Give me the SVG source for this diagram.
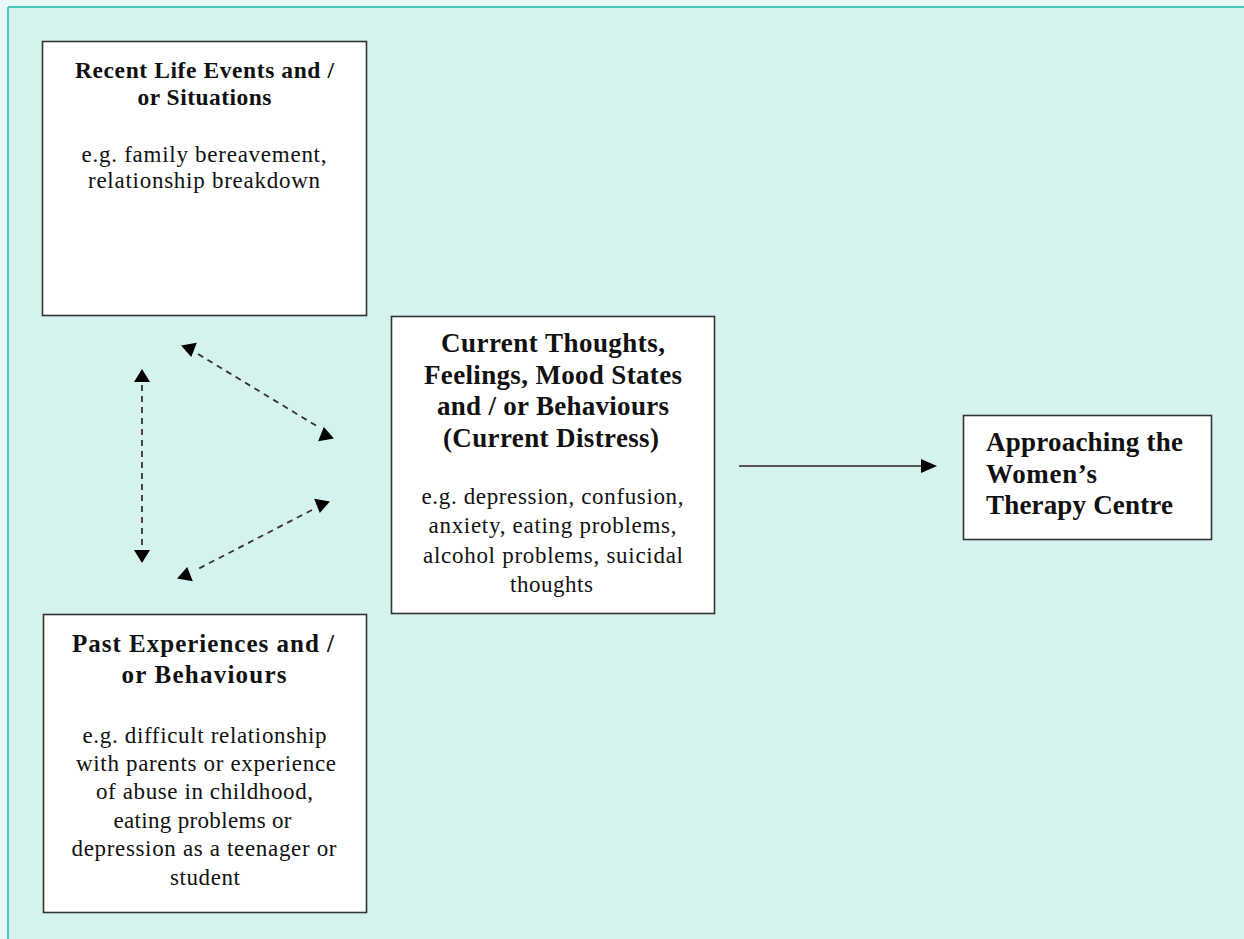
<svg xmlns="http://www.w3.org/2000/svg" width="1244" height="939" viewBox="0 0 1244 939">
<style>
.box{fill:#ffffff;stroke:#333333;stroke-width:1.6}
.t{font-family:"Liberation Serif","Times New Roman",serif;fill:#111111;text-anchor:middle}
.s{text-anchor:start}
.b{font-weight:bold}
.dash{stroke:#333333;stroke-width:1.8;stroke-dasharray:6,5;fill:none}
.head{fill:#000000}
</style>
<defs>
<path id="tri" d="M0,-7 L8,6 L-8,6 Z"/>
</defs>
<rect x="0" y="0" width="1244" height="939" fill="#e8f8f6"/>
<rect x="8" y="7" width="1236" height="932" fill="#d4f3ee"/>
<line x1="8" y1="7" x2="1244" y2="7" stroke="#45c9b8" stroke-width="2"/>
<line x1="8" y1="7" x2="8" y2="939" stroke="#45c9b8" stroke-width="2"/>

<g id="connectors">
<line class="dash" x1="142" y1="385" x2="142" y2="548"/>
<use href="#tri" class="head" transform="translate(142,376)"/>
<use href="#tri" class="head" transform="translate(142,556) rotate(180)"/>
<line class="dash" x1="198" y1="354" x2="320" y2="428"/>
<use href="#tri" class="head" transform="translate(190,350) rotate(170)"/>
<use href="#tri" class="head" transform="translate(325,434) rotate(-10)"/>
<line class="dash" x1="312" y1="510" x2="196" y2="570"/>
<use href="#tri" class="head" transform="translate(321,506) rotate(190)"/>
<use href="#tri" class="head" transform="translate(186,574) rotate(10)"/>
<line x1="739" y1="466" x2="922" y2="466" stroke="#555555" stroke-width="2"/>
<path class="head" d="M921,459 L937,466 L921,473 Z"/>
</g>

<g id="recent">
<rect class="box" x="42.5" y="41.5" width="324" height="274"/>
<text class="t b" font-size="23.5" x="204.5" y="78" textLength="259" lengthAdjust="spacing">Recent Life Events and /</text>
<text class="t b" font-size="23.5" x="204.5" y="105" textLength="134" lengthAdjust="spacing">or Situations</text>
<text class="t" font-size="23" x="204" y="162" textLength="245" lengthAdjust="spacing">e.g. family bereavement,</text>
<text class="t" font-size="23" x="204" y="188" textLength="232" lengthAdjust="spacing">relationship breakdown</text>
</g>

<g id="current">
<rect class="box" x="391.5" y="316.5" width="323" height="297"/>
<text class="t b" font-size="27" x="553" y="352" textLength="224" lengthAdjust="spacing">Current Thoughts,</text>
<text class="t b" font-size="27" x="553" y="384" textLength="258" lengthAdjust="spacing">Feelings, Mood States</text>
<text class="t b" font-size="27" x="553" y="415" textLength="232" lengthAdjust="spacing">and / or Behaviours</text>
<text class="t b" font-size="27" x="551" y="447" textLength="216" lengthAdjust="spacing">(Current Distress)</text>
<text class="t" font-size="23" x="552.5" y="504" textLength="262" lengthAdjust="spacing">e.g. depression, confusion,</text>
<text class="t" font-size="23" x="552.5" y="533" textLength="248" lengthAdjust="spacing">anxiety, eating problems,</text>
<text class="t" font-size="23" x="553" y="563" textLength="260" lengthAdjust="spacing">alcohol problems, suicidal</text>
<text class="t" font-size="23" x="551.5" y="592" textLength="83" lengthAdjust="spacing">thoughts</text>
</g>

<g id="approaching">
<rect class="box" x="963.5" y="415.5" width="248" height="124"/>
<text class="t s b" font-size="27" x="986" y="451" textLength="197" lengthAdjust="spacing">Approaching the</text>
<text class="t s b" font-size="27" x="986" y="483" textLength="111" lengthAdjust="spacing">Women’s</text>
<text class="t s b" font-size="27" x="986" y="514" textLength="187" lengthAdjust="spacing">Therapy Centre</text>
</g>

<g id="past">
<rect class="box" x="43.5" y="614.5" width="323" height="298"/>
<text class="t b" font-size="25" x="203" y="652" textLength="262" lengthAdjust="spacing">Past Experiences and /</text>
<text class="t b" font-size="25" x="204" y="683" textLength="165" lengthAdjust="spacing">or Behaviours</text>
<text class="t" font-size="23" x="204.5" y="743" textLength="244" lengthAdjust="spacing">e.g. difficult relationship</text>
<text class="t" font-size="23" x="206" y="771" textLength="260" lengthAdjust="spacing">with parents or experience</text>
<text class="t" font-size="23" x="204.5" y="799" textLength="217" lengthAdjust="spacing">of abuse in childhood,</text>
<text class="t" font-size="23" x="202.5" y="828" textLength="178" lengthAdjust="spacing">eating problems or</text>
<text class="t" font-size="23" x="204" y="856" textLength="265" lengthAdjust="spacing">depression as a teenager or</text>
<text class="t" font-size="23" x="205" y="885" textLength="70" lengthAdjust="spacing">student</text>
</g>
</svg>
